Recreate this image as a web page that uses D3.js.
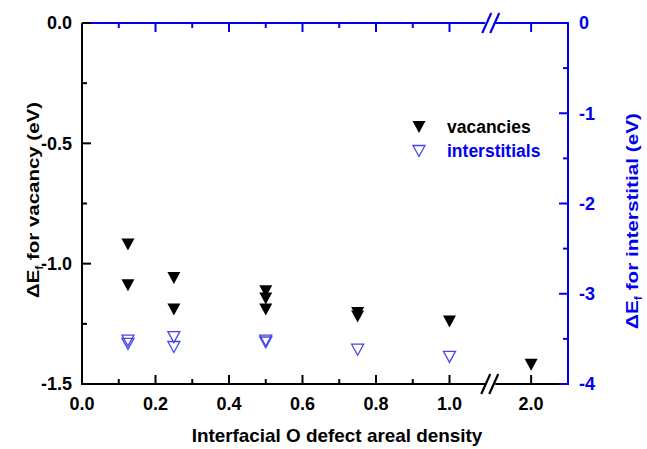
<!DOCTYPE html>
<html><head><meta charset="utf-8">
<script src="https://cdn.jsdelivr.net/npm/d3@7"></script>
<style>
html,body{margin:0;padding:0;background:#fff;}
svg{display:block;}
text{font-family:Arial,"Liberation Sans",Helvetica,sans-serif;font-weight:bold;}
</style></head>
<body>
<script>
// ---- data ----
const vacX = [0.125, 0.125, 0.25, 0.25, 0.5, 0.5, 0.5, 0.75, 0.75, 1.0, 2.0];
const vacY = [-0.92, -1.09, -1.06, -1.19, -1.115, -1.145, -1.19, -1.205, -1.22, -1.24, -1.42];
const intX = [0.125, 0.125, 0.25, 0.25, 0.5, 0.5, 0.75, 1.0];
const intY = [-3.52, -3.555, -3.48, -3.59, -3.52, -3.54, -3.62, -3.70];
const xMajorTicks = [0.0, 0.2, 0.4, 0.6, 0.8, 1.0, 2.0];
const xTickLabels = ["0.0", "0.2", "0.4", "0.6", "0.8", "1.0", "2.0"];
const xMinorTicks = [0.1, 0.3, 0.5, 0.7, 0.9];
const leftTicks = [0.0, -0.5, -1.0, -1.5];
const leftTickLabels = ["0.0", "-0.5", "-1.0", "-1.5"];
const leftMinor = [-0.25, -0.75, -1.25];
const rightTicks = [0, -1, -2, -3, -4];
const rightTickLabels = ["0", "-1", "-2", "-3", "-4"];
const rightMinor = [-0.5, -1.5, -2.5, -3.5];
const legendLabels = ["vacancies", "interstitials"];

(function () {
const W = 647, H = 449;
const L = 82, R = 568, T = 23, B = 384;
const BLUE = "#0000ee", MBLUE = "#4646e6";

const svg = d3.select("body").append("svg").attr("width", W).attr("height", H);

// broken x scale
const x = d3.scaleLinear().domain([0, 1.1, 1.9, 2.1]).range([L, 486.25, 494.25, R]);
const yL = d3.scaleLinear().domain([-1.5, 0]).range([B, T]);
const yR = d3.scaleLinear().domain([-4, 0]).range([B, T]);

const MAJ = 9, MIN = 5, SW = 2;

// ---- top axis (blue) ----
const gTop = svg.append("g").attr("stroke", BLUE).attr("stroke-width", SW).attr("fill", "none");
gTop.append("line").attr("x1", L).attr("x2", x(1.1) - 1).attr("y1", T).attr("y2", T);
gTop.append("line").attr("x1", x(1.9) + 1).attr("x2", R).attr("y1", T).attr("y2", T);
xMajorTicks.forEach(v => { if (v > 0) gTop.append("line").attr("x1", x(v)).attr("x2", x(v)).attr("y1", T).attr("y2", T + MAJ); });
xMinorTicks.forEach(v => gTop.append("line").attr("x1", x(v)).attr("x2", x(v)).attr("y1", T).attr("y2", T + MIN));
[0, 8].forEach(dx => gTop.append("line")
  .attr("x1", x(1.1) - 4 + dx).attr("y1", T + 10).attr("x2", x(1.1) + 5 + dx).attr("y2", T - 10).attr("stroke-width", 2.2));

// ---- right axis (blue) ----
const gRight = svg.append("g").attr("stroke", BLUE).attr("stroke-width", SW);
gRight.append("line").attr("x1", R).attr("x2", R).attr("y1", T - 1).attr("y2", B + 1);
rightTicks.forEach(v => gRight.append("line").attr("x1", R).attr("x2", R - MAJ).attr("y1", yR(v)).attr("y2", yR(v)));
rightMinor.forEach(v => gRight.append("line").attr("x1", R).attr("x2", R - MIN).attr("y1", yR(v)).attr("y2", yR(v)));

// ---- bottom axis (black) ----
const gBot = svg.append("g").attr("stroke", "#000").attr("stroke-width", SW);
gBot.append("line").attr("x1", L).attr("x2", x(1.1) - 1).attr("y1", B).attr("y2", B);
gBot.append("line").attr("x1", x(1.9) + 1).attr("x2", R - MAJ).attr("y1", B).attr("y2", B);
xMajorTicks.forEach(v => { if (v > 0) gBot.append("line").attr("x1", x(v)).attr("x2", x(v)).attr("y1", B).attr("y2", B - MAJ); });
xMinorTicks.forEach(v => gBot.append("line").attr("x1", x(v)).attr("x2", x(v)).attr("y1", B).attr("y2", B - MIN));
[0, 8].forEach(dx => gBot.append("line")
  .attr("x1", x(1.1) - 5 + dx).attr("y1", B + 10).attr("x2", x(1.1) + 4 + dx).attr("y2", B - 10).attr("stroke-width", 2.2));

// ---- left axis (black) ----
const gLeft = svg.append("g").attr("stroke", "#000").attr("stroke-width", SW);
gLeft.append("line").attr("x1", L).attr("x2", L).attr("y1", T).attr("y2", B + 1);
leftTicks.forEach(v => gLeft.append("line").attr("x1", L).attr("x2", L + MAJ).attr("y1", yL(v)).attr("y2", yL(v)));
leftMinor.forEach(v => gLeft.append("line").attr("x1", L).attr("x2", L + MIN).attr("y1", yL(v)).attr("y2", yL(v)));

// ---- tick labels ----
const FS = 18;
svg.append("g").selectAll("text").data(leftTicks).join("text")
  .attr("x", 72).attr("y", d => yL(d)).attr("dy", "0.36em")
  .attr("text-anchor", "end").attr("font-size", FS).attr("fill", "#000")
  .text((d, i) => leftTickLabels[i]);
svg.append("g").selectAll("text").data(rightTicks).join("text")
  .attr("x", 579).attr("y", d => yR(d)).attr("dy", "0.36em")
  .attr("text-anchor", "start").attr("font-size", FS).attr("fill", BLUE)
  .text((d, i) => rightTickLabels[i]);
svg.append("g").selectAll("text").data(xMajorTicks).join("text")
  .attr("x", d => x(d)).attr("y", 410)
  .attr("text-anchor", "middle").attr("font-size", FS).attr("fill", "#000")
  .text((d, i) => xTickLabels[i]);

// stretch a text along its own direction to a target length
function fitLen(sel, target) {
  const n = sel.node();
  const w = n.getBBox().width;
  return w > 0 ? target / w : 1;
}

// ---- axis titles ----
const xt = svg.append("text").attr("text-anchor", "middle")
  .attr("font-size", 18).attr("fill", "#000").text("Interfacial O defect areal density");
const sx = fitLen(xt, 291);
xt.attr("transform", `translate(337,442) scale(${sx},1)`);

function yTitle(cx, cy, rest, color, len) {
  const t = svg.append("text").attr("text-anchor", "middle").attr("font-size", 17).attr("fill", color);
  t.append("tspan").text("\u0394E");
  t.append("tspan").attr("font-size", 10).attr("dy", 4).text("f");
  t.append("tspan").attr("dy", -4).text(" " + rest);
  const s = fitLen(t, len);
  t.attr("transform", `translate(${cx},${cy}) rotate(-90) scale(${s},1)`);
}
yTitle(39, 200, "for vacancy (eV)", "#000", 196);
yTitle(638, 221, "for interstitial (eV)", BLUE, 216);

// ---- markers ----
const tri = d3.symbol().type({ draw(ctx) { const w = 6.5, h = 6; ctx.moveTo(-w, -h); ctx.lineTo(w, -h); ctx.lineTo(0, h); ctx.closePath(); } })();
const triO = d3.symbol().type({ draw(ctx) { const w = 6, h = 5.5; ctx.moveTo(-w, -h); ctx.lineTo(w, -h); ctx.lineTo(0, h); ctx.closePath(); } })();

svg.append("g").selectAll("path").data(intX).join("path")
  .attr("d", triO).attr("transform", (d, i) => `translate(${x(d)},${yR(intY[i])})`)
  .attr("fill", "none").attr("stroke", MBLUE).attr("stroke-width", 1.3);
svg.append("g").selectAll("path").data(vacX).join("path")
  .attr("d", tri).attr("transform", (d, i) => `translate(${x(d)},${yL(vacY[i])})`)
  .attr("fill", "#000");

// ---- legend ----
const lg = svg.append("g");
lg.append("path").attr("d", tri).attr("transform", "translate(419,127)").attr("fill", "#000");
lg.append("path").attr("d", triO).attr("transform", "translate(419,151)").attr("fill", "none").attr("stroke", MBLUE).attr("stroke-width", 1.3);
lg.append("text").attr("x", 447).attr("y", 133).attr("font-size", 17.5).attr("fill", "#000").text(legendLabels[0]);
lg.append("text").attr("x", 447).attr("y", 157).attr("font-size", 17.5).attr("fill", BLUE).text(legendLabels[1]);
})();
</script>
</body></html>
